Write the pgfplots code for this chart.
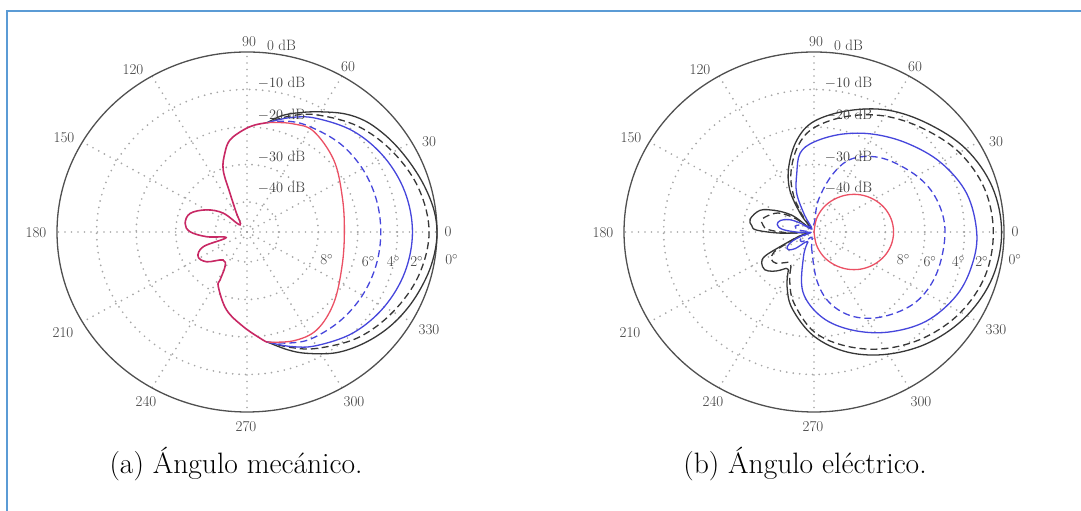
\documentclass[border=0pt]{standalone}
\usepackage{fontspec}
\usepackage{pgfplots}
\pgfplotsset{compat=1.18}
\usepackage{pgfplotstable}
\definecolor{framec}{RGB}{91,155,213}
\definecolor{curveblack}{RGB}{55,55,55}
\definecolor{curveblue}{RGB}{70,70,220}
\definecolor{curvered}{RGB}{235,80,100}
\definecolor{curveback}{RGB}{200,40,100}
\definecolor{outerc}{RGB}{80,80,80}
\definecolor{labc}{RGB}{60,60,60}
\newcommand\lbl{\fontsize{15bp}{18bp}\selectfont}
\newcommand\capfont{\fontsize{29.5bp}{34bp}\selectfont}

% ---------- (a) mechanical tilt: angle (deg), level (dB) ----------
\pgfplotstableread{
a d
80 -18.4
86 -19.4
92 -20.8
100 -23.1
105 -26.3
110 -30.4
112.6 -36.8
117.5 -42.0
133 -45.4
140 -40.2
150 -36.2
161 -32.8
171.6 -32.2
179.7 -33.6
187 -37.7
196 -42.5
199.5 -36.3
208 -34.0
218 -35.1
231 -38.4
239 -37.2
242 -33.5
243.6 -31.7
256 -26.6
268 -22.7
278 -18.9
280 -18.2
}\LBack
\pgfplotstableread{
a d
-80 -18.2
-72 -15.0
-65 -12.3
-55 -8.7
-45 -6.1
-35 -4.0
-25 -2.4
-15 -1.1
-7 -0.3
0 0.0
7 -0.4
15 -1.5
23 -2.7
31 -3.8
38 -4.8
45 -6.0
52 -8.0
60 -11.0
67 -13.4
74 -15.7
80 -18.4
}\LZero
\pgfplotstableread{
a d
-80 -18.2
-70 -15.2
-60 -12.2
-45 -8.2
-30 -5.4
-15 -3.1
0 -2.0
15 -3.1
30 -5.4
45 -8.2
60 -12.0
70 -15.0
80 -18.4
}\LTwo
\pgfplotstableread{
a d
-80 -18.2
-70 -15.5
-60 -13.0
-45 -10.0
-30 -8.0
-15 -6.7
0 -6.2
15 -6.7
30 -8.0
45 -10.0
60 -13.0
70 -15.5
80 -18.4
}\LFour
\pgfplotstableread{
a d
-80 -18.2
-70 -16.5
-60 -15.2
-45 -14.6
-30 -14.3
-15 -14.2
0 -14.2
15 -14.2
30 -14.3
45 -14.7
60 -15.7
70 -16.6
80 -18.4
}\LSix
\pgfplotstableread{
a d
-80 -18.2
-68 -16.7
-56 -16.5
-41 -19.0
-21 -22.3
0 -23.4
21 -22.2
41 -18.9
58 -16.3
68 -16.9
76 -17.9
80 -18.4
}\LEight

% ---------- (b) electrical tilt ----------
\pgfplotstableread{
a d
-122.6 -36.0
-115 -31.9
-105 -26.8
-90 -20.2
-75 -14.8
-60 -10.4
-45 -6.5
-30 -3.4
-15 -1.3
0 -0.6
15 -1.4
30 -3.7
45 -7.2
60 -10.5
75 -14.5
90 -18.5
100 -23.1
110 -29.4
118.6 -35.2
125 -41.9
131 -46.8
140 -42.0
144 -39.5
150 -36.5
157 -33.2
168 -31.5
174 -32.2
178 -33.5
182 -39.4
188 -46.5
197 -44.0
204.5 -38.6
207.5 -34.0
212 -32.4
219 -32.0
225 -33.2
230 -34.7
234 -36.0
237.4 -36.0
}\RZero
\pgfplotstableread{
a d
-122 -37.0
-115 -33.5
-105 -28.4
-90 -21.4
-75 -16.5
-60 -12.1
-45 -8.3
-30 -5.2
-15 -3.2
0 -2.7
15 -3.4
30 -5.6
45 -9.0
60 -12.3
75 -16.1
90 -20.2
100 -24.7
110 -31.0
118 -37.0
124 -43.0
130 -46.8
142 -42.5
147 -39.5
153 -37.0
165 -34.5
172 -35.0
177 -36.5
182 -41.5
188 -46.5
198 -43.5
205 -39.5
208 -36.5
214 -35.0
221 -35.3
228 -37.0
233 -37.8
238 -37.0
}\RTwo
\pgfplotstableread{
a d
-120 -45.0
-112 -40.9
-100 -31.8
-85 -25.2
-70 -20.2
-55 -15.4
-40 -11.0
-25 -8.2
-12 -7.1
0 -6.9
15 -8.1
30 -11.0
45 -14.6
60 -17.9
75 -21.0
90 -24.0
99.5 -26.7
105.6 -31.8
113 -36.8
118 -43.0
123 -47.0
145 -44.0
152 -41.0
160 -39.0
168 -38.5
175 -40.0
181 -44.0
188 -47.2
198 -45.0
204 -42.0
210 -40.2
216 -40.0
223 -41.5
231 -44.5
240 -45.0
}\RFour
\pgfplotstableread{
a d
-99 -44.0
-87 -35.2
-78 -28.6
-66 -23.3
-52 -19.4
-36 -16.2
-19.5 -15.1
0 -14.9
15.4 -15.8
29.7 -18.0
48.2 -21.7
63.2 -26.0
72.6 -31.6
82.6 -39.4
92 -46.0
140 -45.5
152 -44.0
162 -43.0
172 -44.0
182 -47.0
200 -45.5
210 -44.0
220 -44.0
232 -45.5
250 -46.5
261 -44.0
}\RSix
\pgfplotstableread{
a d
-90 -48.0
-80 -44.5
-70 -41.1
-60 -38.0
-50 -35.1
-40 -32.6
-30 -30.6
-20 -29.1
-10 -28.2
0 -27.9
10 -28.2
20 -29.1
30 -30.6
40 -32.6
50 -35.1
60 -38.0
70 -41.1
80 -44.5
90 -48.0
}\REight

\pgfplotsset{
  polarbase/.style={scale only axis, width=380bp, height=360bp,
    xmin=-48, xmax=48, ymin=-48, ymax=48, axis lines=none,
    clip=false, anchor=center},
  crv/.style={data cs=polar, smooth, tension=0.6, line width=1.3bp},
  dsh/.style={dash pattern=on 7bp off 4bp},
}
\tikzset{gridc/.style={color=gray!70, line width=1.9bp, dash pattern=on 0bp off 6.5bp, line cap=round}}

\newcommand\polargrid{%
  \pgfplotsinvokeforeach{0,30,...,330}{\draw[gridc] (axis cs:0,0) -- (axis cs:{48*cos(##1)},{48*sin(##1)});}
  \draw[gridc] (axis cs:0,0) ellipse [x radius=38, y radius=38];
  \draw[gridc] (axis cs:0,0) ellipse [x radius=28, y radius=28];
  \draw[gridc] (axis cs:0,0) ellipse [x radius=18, y radius=18];
  \draw[gridc] (axis cs:0,0) ellipse [x radius=8, y radius=8];
  \draw[outerc, line width=1.3bp] (axis cs:0,0) ellipse [x radius=48, y radius=48];
}
\newcommand\anglabels{%
  \node at (2,190) {90};
  \node at (34.5,187) {0 dB};
  \node at (101,165) {60};
  \node at (-114,162) {120};
  \node at (182,90) {30};
  \node at (-183,94) {150};
  \node at (201,0) {0};
  \node at (-211,-1) {180};
  \node at (-184,-101) {210};
  \node at (182,-98) {330};
  \node at (-101,-170) {240};
  \node at (107,-170) {300};
  \node at (-1,-195) {270};
  \node at (34.5,148.7) {$-10$ dB};
  \node at (34.5,117) {$-20$ dB};
  \node at (34.5,75.3) {$-30$ dB};
  \node at (34.5,43.7) {$-40$ dB};
}

\begin{document}
\begin{tikzpicture}[x=1bp,y=1bp]
\useasboundingbox (0,0) rectangle (1081,511);
\fill[white] (0,0) rectangle (1081,511);
\draw[framec, line width=2bp] (7,-2) -- (7,500) -- (1083,500);

\begin{axis}[polarbase, at={(247bp,279bp)}]
\polargrid
\addplot[crv, curveblack] table[x=a, y expr=\thisrow{d}+48] \LZero;
\addplot[crv, curveblack, dsh] table[x=a, y expr=\thisrow{d}+48] \LTwo;
\addplot[crv, curveblue] table[x=a, y expr=\thisrow{d}+48] \LFour;
\addplot[crv, curveblue, dsh] table[x=a, y expr=\thisrow{d}+48] \LSix;
\addplot[crv, curvered] table[x=a, y expr=\thisrow{d}+48] \LEight;
\addplot[crv, curveback, line width=1.6bp] table[x=a, y expr=\thisrow{d}+48] \LBack;
\end{axis}

\begin{axis}[polarbase, at={(814bp,279bp)}]
\polargrid
\addplot[crv, curveblack] table[x=a, y expr=\thisrow{d}+48] \RZero;
\addplot[crv, curveblack, dsh] table[x=a, y expr=\thisrow{d}+48] \RTwo;
\addplot[crv, curveblue] table[x=a, y expr=\thisrow{d}+48] \RFour;
\addplot[crv, curveblue, dsh] table[x=a, y expr=\thisrow{d}+48] \RSix;
\addplot[crv, curvered] table[x=a, y expr=\thisrow{d}+48] \REight;
\end{axis}

\begin{scope}[shift={(247,279)}, every node/.style={font=\lbl, text=labc, inner sep=0pt}]
\anglabels
\node at (79.7,-28) {8$^{\circ}$};
\node at (121.3,-29.7) {6$^{\circ}$};
\node at (146.3,-29.7) {4$^{\circ}$};
\node at (169.7,-29.7) {2$^{\circ}$};
\node at (204.7,-28) {0$^{\circ}$};
\end{scope}
\begin{scope}[shift={(814,279)}, every node/.style={font=\lbl, text=labc, inner sep=0pt}]
\anglabels
\node at (89.3,-28) {8$^{\circ}$};
\node at (116,-29.7) {6$^{\circ}$};
\node at (144.3,-29.7) {4$^{\circ}$};
\node at (167.7,-29.7) {2$^{\circ}$};
\node at (201,-28) {0$^{\circ}$};
\end{scope}

\node[font=\capfont, anchor=base, inner sep=0pt] at (236,37) {(a) Ángulo mecánico.};
\node[font=\capfont, anchor=base, inner sep=0pt] at (805,37) {(b) Ángulo eléctrico.};
\end{tikzpicture}
\end{document}
